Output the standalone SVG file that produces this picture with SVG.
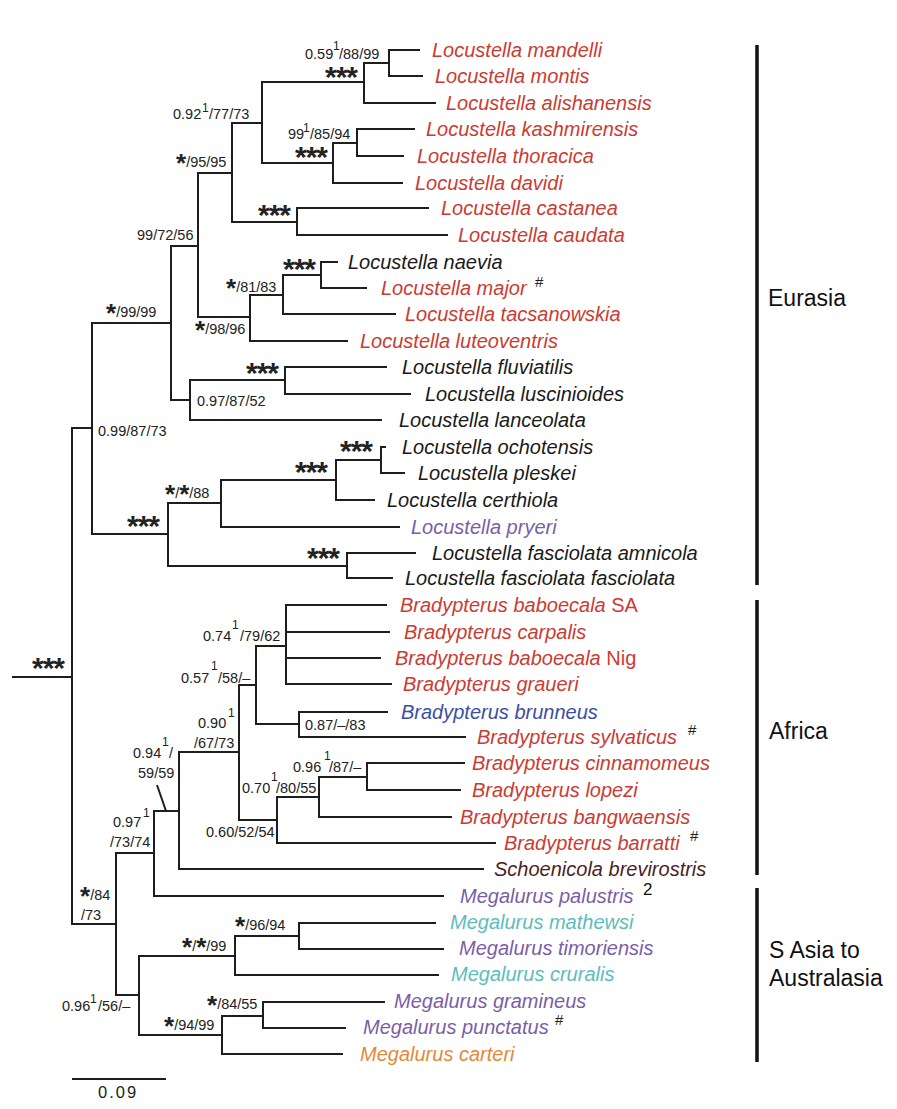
<svg xmlns="http://www.w3.org/2000/svg" width="897" height="1109" viewBox="0 0 897 1109">
<style>
text{font-family:"Liberation Sans",Arial,sans-serif}
.sp{font-size:20px;font-style:italic}
.up{font-style:normal}
.red{fill:#cc3b32}.pur{fill:#7b5ea7}.cya{fill:#5dbcc0}.ora{fill:#e3893b}.blu{fill:#3c4ea5}.brn{fill:#4b1f1f}.blk{fill:#1a1a1a}
.sup{font-size:14.5px;fill:#222}
.s1{font-size:12px;fill:#222}
.st{font-size:26px;font-weight:bold}
.ast{font-size:30px;font-weight:bold;letter-spacing:-1px;fill:#222}
.mk{font-size:15px;fill:#222}
.reg{font-size:23px;fill:#111}
.br{fill:none;stroke:#1e1e1e;stroke-width:2;stroke-linecap:square}
.bar{stroke:#111;stroke-width:3.5}
</style>
<rect width="897" height="1109" fill="#fff"/>
<g id="connectors" class="br">
<path d="M13,677H72M72,428V924"/>
<path d="M72,428H92M92,323V534"/>
<path d="M92,323H171M171,246V400"/>
<path d="M171,246H198M198,173V317"/>
<path d="M198,173H232M232,123V222"/>
<path d="M232,123H262M262,82V163"/>
<path d="M262,82H364M364,63V103"/>
<path d="M364,63H389M389,50V76M389,50H419M389,76H422M364,103H435"/>
<path d="M262,163H333M333,143V183"/>
<path d="M333,143H357M357,129V156M357,129H414M357,156H403M333,183H402"/>
<path d="M232,222H297M297,208V235M297,208H428M297,235H447"/>
<path d="M198,317H250M250,295V341"/>
<path d="M250,295H283M283,275V314"/>
<path d="M283,275H321M321,262V288M321,262H337M321,288H366"/>
<path d="M283,314H395M250,341H347"/>
<path d="M171,400H190M190,380V420"/>
<path d="M190,380H285M285,367V394M285,367H386M285,394H410M190,420H381"/>
<path d="M92,534H168M168,503V566"/>
<path d="M168,503H221M221,480V527"/>
<path d="M221,480H336M336,460V500"/>
<path d="M336,460H381M381,447V473M381,447H385M381,473H404M336,500H374"/>
<path d="M221,527H399"/>
<path d="M168,566H347M347,553V578M347,553H415M347,578H392"/>
<path d="M72,924H116M116,853V995"/>
<path d="M116,853H154M154,811V896"/>
<path d="M154,811H179M179,752V869"/>
<path d="M179,752H239M239,685V820"/>
<path d="M239,685H256M256,646V724"/>
<path d="M256,646H286M286,605V684M286,605H386M286,632H389M286,658H380M286,684H391"/>
<path d="M256,724H299M299,712V737M299,712H387M299,737H465"/>
<path d="M239,820H277M277,797V843"/>
<path d="M277,797H319M319,777V817"/>
<path d="M319,777H367M367,763V790M367,763H464M367,790H460"/>
<path d="M319,817H451M277,843H495M179,869H483M154,896H443"/>
<path d="M116,995H139M139,956V1035"/>
<path d="M139,956H235M235,936V975"/>
<path d="M235,936H299M299,923V949M299,923H435M299,949H443M235,975H438"/>
<path d="M139,1035H222M222,1016V1054"/>
<path d="M222,1016H263M263,1002V1028M263,1002H384M263,1028H345M222,1054H342"/>
<path d="M157,785L166,811" stroke-linecap="butt"/>
</g>
<g id="tips">
<g id="t-mandelli"><text class="sp red" x="432" y="57">Locustella mandelli</text></g>
<g id="t-montis"><text class="sp red" x="435" y="83">Locustella montis</text></g>
<g id="t-alishanensis"><text class="sp red" x="446" y="110">Locustella alishanensis</text></g>
<g id="t-kashmirensis"><text class="sp red" x="426" y="136">Locustella kashmirensis</text></g>
<g id="t-thoracica"><text class="sp red" x="417" y="163">Locustella thoracica</text></g>
<g id="t-davidi"><text class="sp red" x="415" y="190">Locustella davidi</text></g>
<g id="t-castanea"><text class="sp red" x="441" y="215">Locustella castanea</text></g>
<g id="t-caudata"><text class="sp red" x="458" y="242">Locustella caudata</text></g>
<g id="t-naevia"><text class="sp blk" x="348" y="269">Locustella naevia</text></g>
<g id="t-major"><text class="sp red" x="381" y="295">Locustella major</text><text class="mk" x="535" y="287">#</text></g>
<g id="t-tacsanowskia"><text class="sp red" x="405" y="321">Locustella tacsanowskia</text></g>
<g id="t-luteoventris"><text class="sp red" x="360" y="348">Locustella luteoventris</text></g>
<g id="t-fluviatilis"><text class="sp blk" x="402" y="374">Locustella fluviatilis</text></g>
<g id="t-luscinioides"><text class="sp blk" x="425" y="401">Locustella luscinioides</text></g>
<g id="t-lanceolata"><text class="sp blk" x="399" y="427">Locustella lanceolata</text></g>
<g id="t-ochotensis"><text class="sp blk" x="402" y="454">Locustella ochotensis</text></g>
<g id="t-pleskei"><text class="sp blk" x="418" y="480">Locustella pleskei</text></g>
<g id="t-certhiola"><text class="sp blk" x="387" y="507">Locustella certhiola</text></g>
<g id="t-pryeri"><text class="sp pur" x="411" y="534">Locustella pryeri</text></g>
<g id="t-amnicola"><text class="sp blk" x="432" y="560">Locustella fasciolata amnicola</text></g>
<g id="t-fasciolata"><text class="sp blk" x="405" y="585">Locustella fasciolata fasciolata</text></g>
<g id="t-baboecalaSA"><text class="sp red" x="400" y="612">Bradypterus baboecala <tspan class="up">SA</tspan></text></g>
<g id="t-carpalis"><text class="sp red" x="404" y="639">Bradypterus carpalis</text></g>
<g id="t-baboecalaNig"><text class="sp red" x="395" y="665">Bradypterus baboecala <tspan class="up">Nig</tspan></text></g>
<g id="t-graueri"><text class="sp red" x="403" y="691">Bradypterus graueri</text></g>
<g id="t-brunneus"><text class="sp blu" x="401" y="719">Bradypterus brunneus</text></g>
<g id="t-sylvaticus"><text class="sp red" x="477" y="744">Bradypterus sylvaticus</text><text class="mk" x="688" y="735">#</text></g>
<g id="t-cinnamomeus"><text class="sp red" x="472" y="770">Bradypterus cinnamomeus</text></g>
<g id="t-lopezi"><text class="sp red" x="472" y="797">Bradypterus lopezi</text></g>
<g id="t-bangwaensis"><text class="sp red" x="460" y="824">Bradypterus bangwaensis</text></g>
<g id="t-barratti"><text class="sp red" x="504" y="850">Bradypterus barratti</text><text class="mk" x="690" y="841">#</text></g>
<g id="t-schoenicola"><text class="sp brn" x="494" y="876">Schoenicola brevirostris</text></g>
<g id="t-palustris"><text class="sp pur" x="460" y="903">Megalurus palustris</text><text x="643" y="895" font-size="17" fill="#111">2</text></g>
<g id="t-mathewsi"><text class="sp cya" x="450" y="929">Megalurus mathewsi</text></g>
<g id="t-timoriensis"><text class="sp pur" x="459" y="955">Megalurus timoriensis</text></g>
<g id="t-cruralis"><text class="sp cya" x="451" y="981">Megalurus cruralis</text></g>
<g id="t-gramineus"><text class="sp pur" x="394" y="1008">Megalurus gramineus</text></g>
<g id="t-punctatus"><text class="sp pur" x="363" y="1034">Megalurus punctatus</text><text class="mk" x="555" y="1025">#</text></g>
<g id="t-carteri"><text class="sp ora" x="360" y="1061">Megalurus carteri</text></g>
</g>
<g id="supports">
<g id="n1"><text class="sup" x="305" y="59">0.59</text><text class="s1" x="333" y="50">1</text><text class="sup" x="339" y="59">/88/99</text></g>
<g id="n2"><text class="ast" x="325" y="87">***</text></g>
<g id="n3"><text class="sup" x="173" y="119">0.92</text><text class="s1" x="202" y="112">1</text><text class="sup" x="209" y="119">/77/73</text></g>
<g id="n4"><text class="sup" x="288" y="139">99</text><text class="s1" x="303" y="132">1</text><text class="sup" x="310" y="139">/85/94</text></g>
<g id="n5"><text class="ast" x="295" y="167">***</text></g>
<g id="n6"><text class="sup" x="176" y="167"><tspan class="st" dy="5">*</tspan><tspan dy="-5">/95/95</tspan></text></g>
<g id="n7"><text class="ast" x="258" y="225">***</text></g>
<g id="n8"><text class="sup" x="137" y="240">99/72/56</text></g>
<g id="n9"><text class="ast" x="283" y="279">***</text></g>
<g id="n10"><text class="sup" x="226" y="292"><tspan class="st" dy="5">*</tspan><tspan dy="-5">/81/83</tspan></text></g>
<g id="n11"><text class="sup" x="106" y="317"><tspan class="st" dy="5">*</tspan><tspan dy="-5">/99/99</tspan></text></g>
<g id="n12"><text class="sup" x="195" y="334"><tspan class="st" dy="5">*</tspan><tspan dy="-5">/98/96</tspan></text></g>
<g id="n13"><text class="ast" x="246" y="383">***</text></g>
<g id="n14"><text class="sup" x="197" y="406">0.97/87/52</text></g>
<g id="n15"><text class="sup" x="98" y="436">0.99/87/73</text></g>
<g id="n16"><text class="ast" x="340" y="461">***</text></g>
<g id="n17"><text class="ast" x="295" y="482">***</text></g>
<g id="n18"><text class="sup" x="165" y="498"><tspan class="st" dy="5">*</tspan><tspan dy="-5">/</tspan><tspan class="st" dy="5">*</tspan><tspan dy="-5">/88</tspan></text></g>
<g id="n19"><text class="ast" x="127" y="536">***</text></g>
<g id="n20"><text class="ast" x="307" y="568">***</text></g>
<g id="n21"><text class="ast" x="32" y="678">***</text></g>
<g id="n22"><text class="sup" x="203" y="641">0.74</text><text class="s1" x="232" y="629">1</text><text class="sup" x="240" y="641">/79/62</text></g>
<g id="n23"><text class="sup" x="181" y="683">0.57</text><text class="s1" x="211" y="670">1</text><text class="sup" x="218" y="683">/58/–</text></g>
<g id="n24"><text class="sup" x="305" y="730">0.87/–/83</text></g>
<g id="n25"><text class="sup" x="198" y="728">0.90</text><text class="s1" x="228" y="717">1</text><text class="sup" x="194" y="748">/67/73</text></g>
<g id="n26"><text class="sup" x="133" y="758">0.94</text><text class="s1" x="162" y="746">1</text><text class="sup" x="169" y="758">/</text><text class="sup" x="138" y="778">59/59</text></g>
<g id="n27"><text class="sup" x="293" y="772">0.96</text><text class="s1" x="324" y="760">1</text><text class="sup" x="329" y="772">/87/–</text></g>
<g id="n28"><text class="sup" x="242" y="793">0.70</text><text class="s1" x="271" y="781">1</text><text class="sup" x="276" y="793">/80/55</text></g>
<g id="n29"><text class="sup" x="206" y="837">0.60/52/54</text></g>
<g id="n30"><text class="sup" x="113" y="827">0.97</text><text class="s1" x="143" y="817">1</text><text class="sup" x="110" y="847">/73/74</text></g>
<g id="n31"><text class="sup" x="80" y="900"><tspan class="st" dy="5">*</tspan><tspan dy="-5">/84</tspan></text><text class="sup" x="81" y="920">/73</text></g>
<g id="n32"><text class="sup" x="235" y="930"><tspan class="st" dy="5">*</tspan><tspan dy="-5">/96/94</tspan></text></g>
<g id="n33"><text class="sup" x="182" y="951"><tspan class="st" dy="5">*</tspan><tspan dy="-5">/</tspan><tspan class="st" dy="5">*</tspan><tspan dy="-5">/99</tspan></text></g>
<g id="n34"><text class="sup" x="62" y="1011">0.96</text><text class="s1" x="90" y="1003">1</text><text class="sup" x="98" y="1011">/56/–</text></g>
<g id="n35"><text class="sup" x="207" y="1009"><tspan class="st" dy="5">*</tspan><tspan dy="-5">/84/55</tspan></text></g>
<g id="n36"><text class="sup" x="164" y="1030"><tspan class="st" dy="5">*</tspan><tspan dy="-5">/94/99</tspan></text></g>
</g>
<g id="regions">
<g id="r-eurasia"><line class="bar" x1="757" y1="45" x2="757" y2="585"/><text class="reg" x="768" y="306">Eurasia</text></g>
<g id="r-africa"><line class="bar" x1="757" y1="600" x2="757" y2="875"/><text class="reg" x="769" y="739">Africa</text></g>
<g id="r-sasia"><line class="bar" x1="757" y1="888" x2="757" y2="1062"/><text class="reg" x="769" y="958">S Asia to</text><text class="reg" x="769" y="986">Australasia</text></g>
</g>
<g id="scale">
<line x1="72" y1="1079" x2="166" y2="1079" stroke="#1e1e1e" stroke-width="2"/>
<text x="98" y="1098" font-size="16.5" letter-spacing="2" fill="#222">0.09</text>
</g>
</svg>
